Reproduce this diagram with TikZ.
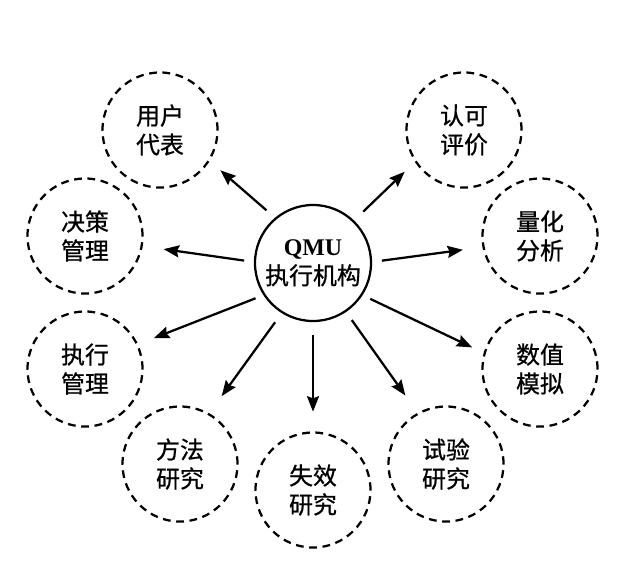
\documentclass[tikz,border=0pt]{standalone}
\usepackage{fontspec}
\setmainfont{Liberation Serif}
\newfontfamily\cjk[FakeBold=0.8]{Noto Sans CJK SC}
\usetikzlibrary{positioning, calc}
\usetikzlibrary{arrows.meta}

\begin{document}
\begin{tikzpicture}[x=0.025cm,y=-0.025cm,line width=1.6pt,-{Stealth[length=11pt,width=8.5pt,inset=1.5pt]},draw=black!100]
	\tikzstyle{c-node}=[circle,draw=black!100,line width=1.6pt,inner sep=0pt,minimum size=2.9cm,align=center,font=\fontsize{17}{20.6}\selectfont\cjk]
	\tikzstyle{d-node}=[c-node,minimum size=2.875cm,dash pattern=on 5.5pt off 4pt]
	\useasboundingbox (0,0) rectangle (628,565);
	% centre
	\node[c-node] 	(qmu)	at (313,263)	{\textbf{\rmfamily QMU}\\执行机构};

	% outer ring
	\node[d-node] 	(yhdb)	at (160,130)	{用户\\代表};
	\node[d-node] 	(kpj)	at (464,130)	{认可\\评价};
	\node[d-node] 	(jcgl)	at (85,236)	{决策\\管理};
	\node[d-node] 	(lhfx)	at (540,236)	{量化\\分析};
	\node[d-node] 	(zxgl)	at (85,369)	{执行\\管理};
	\node[d-node] 	(szmn)	at (540,369)	{数值\\模拟};
	\node[d-node] 	(ffyj)	at (180,464)	{方法\\研究};
	\node[d-node] 	(sxyj)	at (313,490)	{失效\\研究};
	\node[d-node] 	(syyj)	at (446,464)	{试验\\研究};

	\path (qmu.130)	edge[shorten <=8pt, shorten >=10pt]	(yhdb.-32)
		(qmu.46)	edge[shorten <=9pt, shorten >=10pt]	(kpj.213)
		(qmu.179)	edge[shorten <=7pt, shorten >=15pt]	(jcgl.-10)
		(qmu.1)	edge[shorten <=7pt, shorten >=14pt]	(lhfx.191)
		(qmu.213)	edge[shorten <=6pt, shorten >=12pt]	(zxgl.25)
		(qmu.-33)	edge[shorten <=6pt, shorten >=9pt]	(szmn.164)
		(qmu.238)	edge[shorten <=8pt, shorten >=15pt]	(ffyj.60)
		(qmu.270)	edge[shorten <=9pt, shorten >=14pt]	(sxyj.90)
		(qmu.-56)	edge[shorten <=7pt, shorten >=15pt]	(syyj.119);
\end{tikzpicture}
\end{document}
